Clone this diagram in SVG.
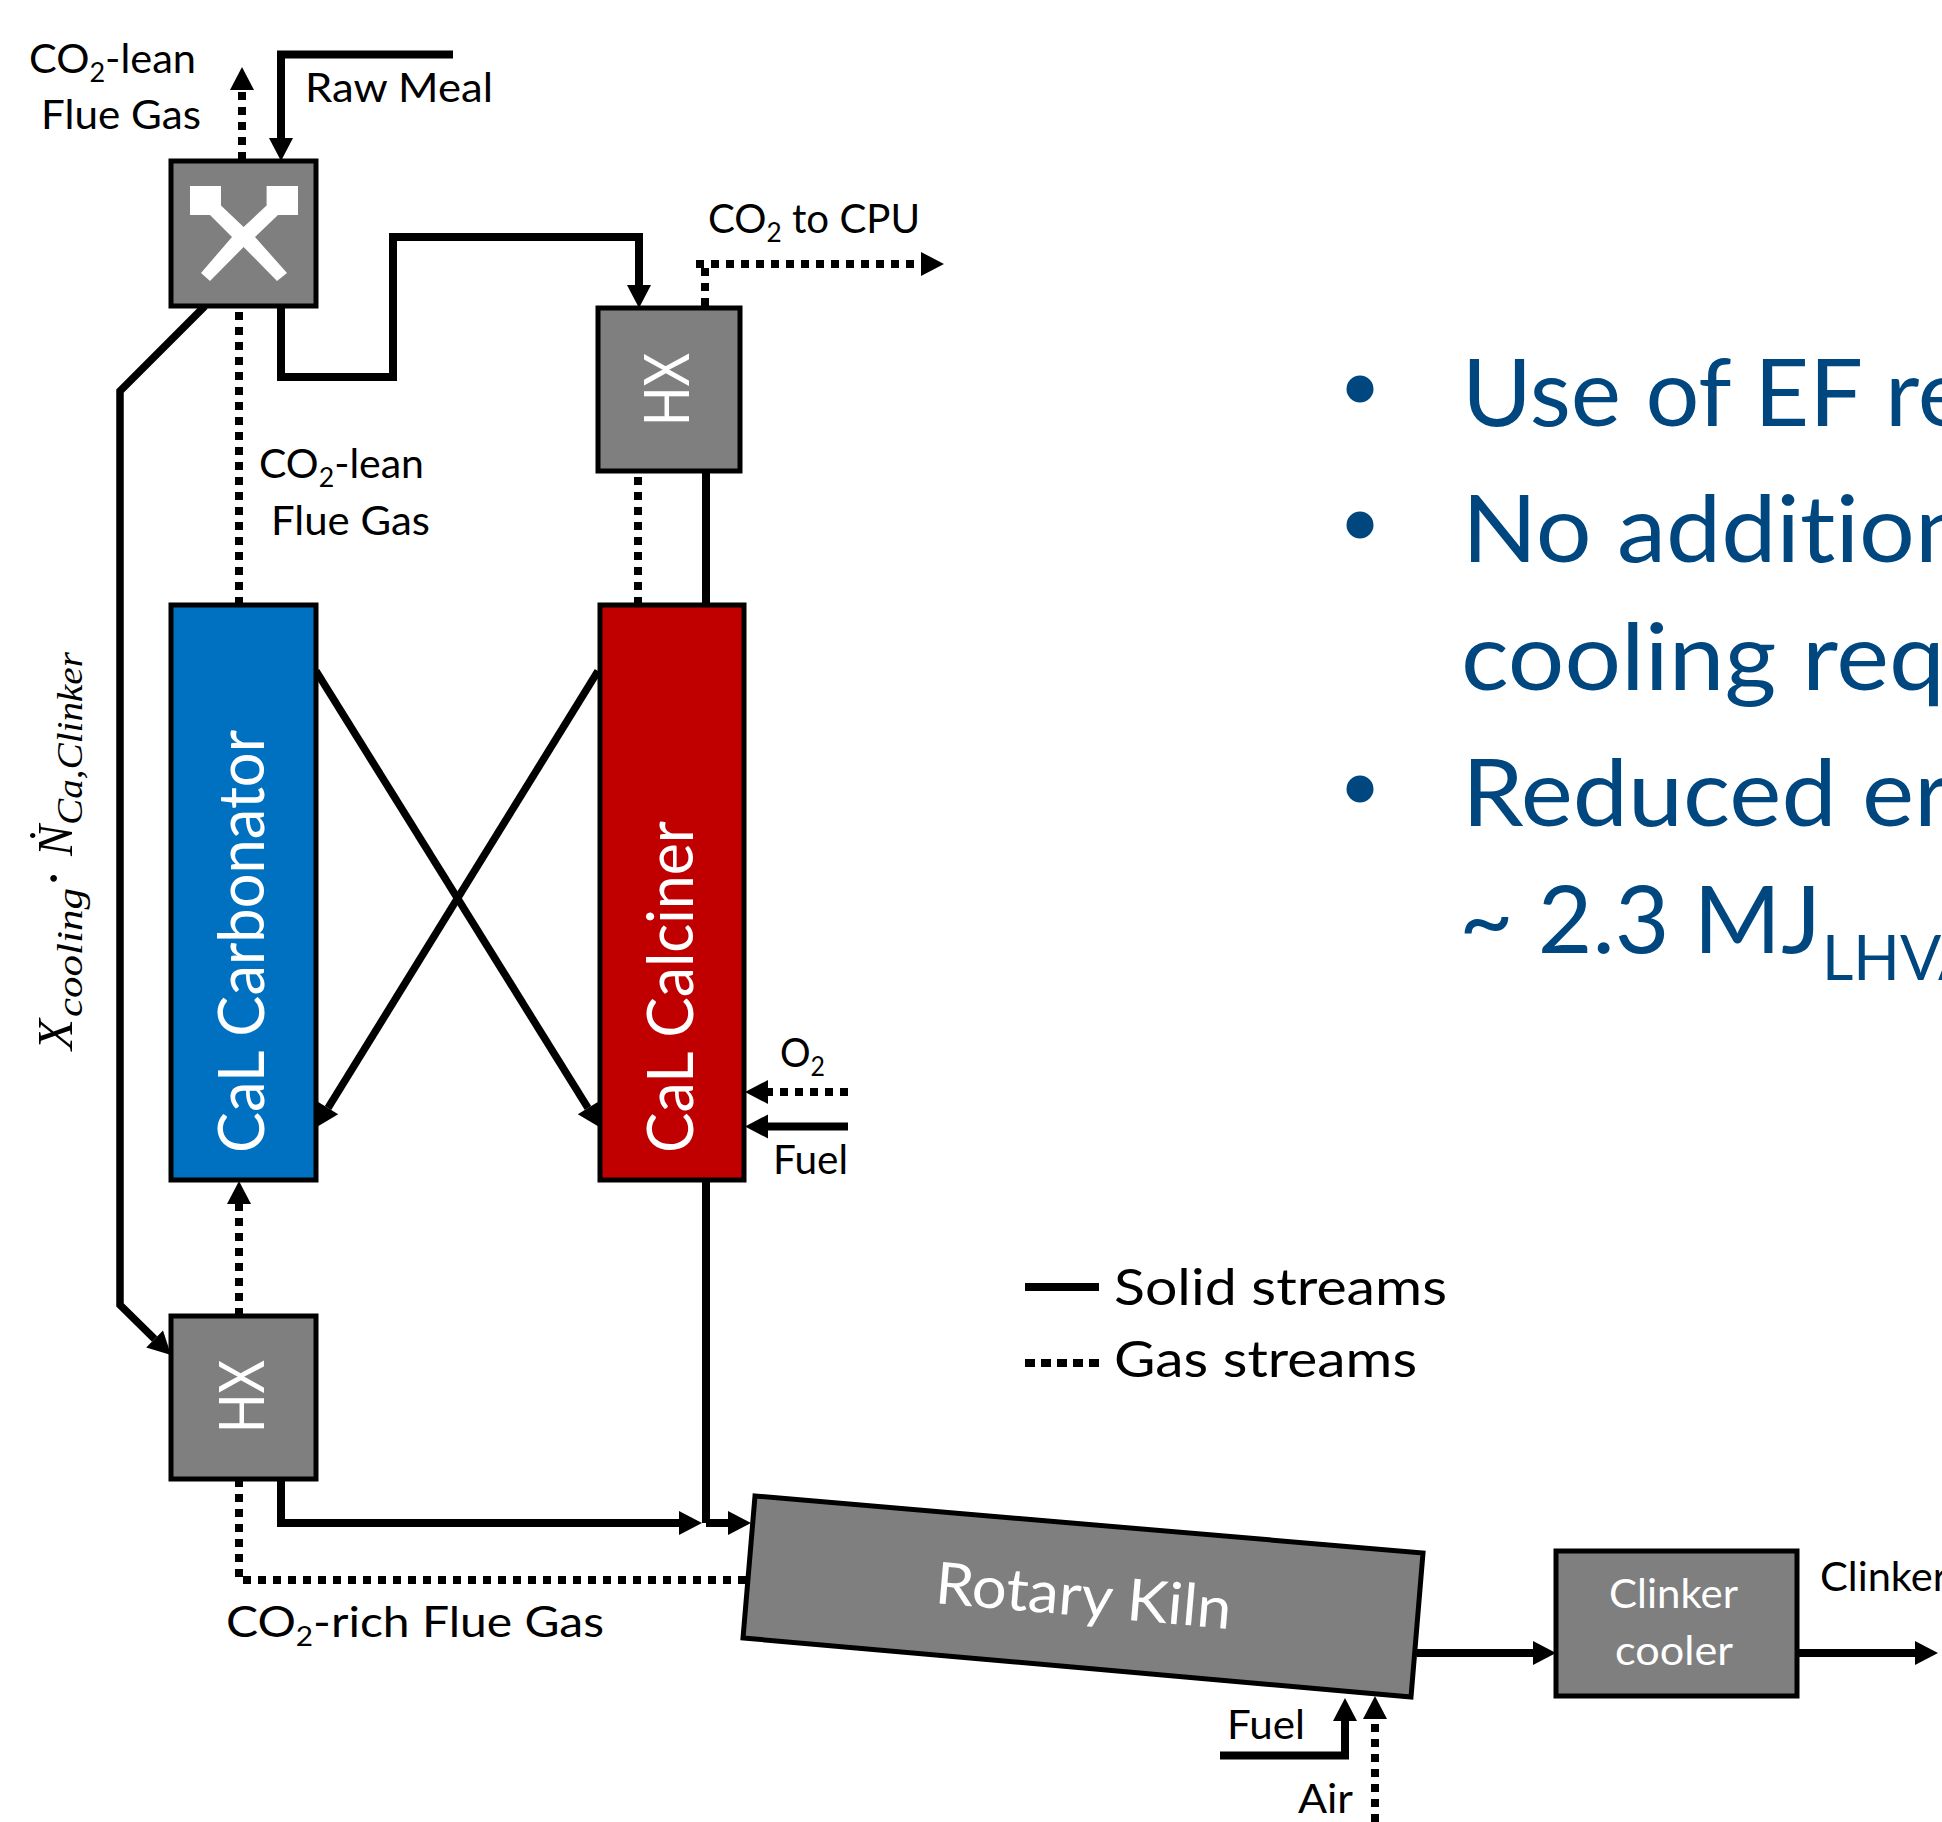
<svg xmlns="http://www.w3.org/2000/svg" width="1942" height="1822" viewBox="0 0 1942 1822">
<style>
text{font-family:Lato,"Liberation Sans",sans-serif;fill:#000;font-variant-ligatures:none}
.lbl{font-size:40px}
.sub{font-size:26px}
.leg{font-size:50px}
.w{fill:#fff}
.big{font-size:94px;fill:#00467f}
.math{font-family:"Liberation Serif","DejaVu Serif",serif;font-style:italic}
.box{stroke:#000;stroke-width:5;stroke-linejoin:miter}
.grey{fill:#7f7f7f}
.s{fill:none;stroke:#000;stroke-width:8;stroke-linejoin:miter}
.t{fill:none;stroke:#000;stroke-width:7.500;stroke-linejoin:miter}
.g{fill:none;stroke:#000;stroke-width:8;stroke-dasharray:8 7}
.ah{marker-end:url(#arrow)}
</style>
<defs>
<marker id="arrow" markerUnits="userSpaceOnUse" markerWidth="24" markerHeight="24" refX="0" refY="12" orient="auto" overflow="visible">
<path d="M0 0L23 12L0 24Z" fill="#000"/>
</marker>
</defs>
<rect width="1942" height="1822" fill="#fff"/>
<g id="connectors">
<path class="s ah" d="M453 54.500H281V138"/>
<path class="g ah" d="M242 160V90"/>
<path class="s ah" d="M281 306V377H393V237H639V285"/>
<path class="g ah" d="M705 306V264H696M696 264H921"/>
<path class="t ah" d="M205 306L120 391V1305L154.600 1339"/>
<path class="g" d="M239 605V306"/>
<path class="g ah" d="M239 1316V1204"/>
<path class="g" d="M638 605V471"/>
<path class="s" d="M706 471V605"/>
<path class="t ah" d="M316 671L588 1108"/>
<path class="t ah" d="M598 671L328 1108"/>
<path class="g ah" d="M848 1092H768"/>
<path class="s ah" d="M848 1126.500H768"/>
<path class="s" d="M706 1180V1523"/>
<path class="s ah" d="M281 1479V1523H679"/>
<path class="s ah" d="M706 1523H728"/>
<path class="g" d="M239 1479V1580H746"/>
<path class="s ah" d="M1417 1653H1533"/>
<path class="s ah" d="M1797 1653H1915"/>
<path class="s ah" d="M1220 1755.500H1345V1721"/>
<path class="g ah" d="M1375 1822V1719"/>
<path class="s" d="M1025 1287H1099"/>
<path class="g" style="stroke-dasharray:10 6" d="M1025 1363H1099"/>
</g>
<g id="mixer">
<rect class="box grey" x="171" y="161" width="145" height="145"/>
<path fill="#fff" d="M190 186H221V205.500L243.600 227L266.600 205.500V186H298V215H278L255 237L287 273L277 281L243.600 247L210 281L201 273L232 237L210 215H190Z"/>
</g>
<g id="hx-top">
<rect class="box grey" x="598" y="308" width="142" height="163"/>
<text class="w" font-size="61" transform="translate(689,426) rotate(-90)" textLength="73" lengthAdjust="spacingAndGlyphs">HX</text>
</g>
<g id="carbonator">
<rect class="box" fill="#0070c0" x="171" y="605" width="145" height="575"/>
<text class="w" font-size="64" transform="translate(264,1153) rotate(-90)" textLength="423" lengthAdjust="spacingAndGlyphs">CaL Carbonator</text>
</g>
<g id="calciner">
<rect class="box" fill="#c00000" x="600" y="605" width="144" height="575"/>
<text class="w" font-size="64" transform="translate(693,1153) rotate(-90)" textLength="332" lengthAdjust="spacingAndGlyphs">CaL Calciner</text>
</g>
<g id="hx-bottom">
<rect class="box grey" x="171" y="1316" width="145" height="163"/>
<text class="w" font-size="61" transform="translate(264,1433) rotate(-90)" textLength="73" lengthAdjust="spacingAndGlyphs">HX</text>
</g>
<g id="kiln">
<path class="box grey" d="M755 1496L1423 1553L1411 1697L743 1638Z"/>
<text class="w" font-size="58" transform="translate(934,1603) rotate(5)" textLength="297" lengthAdjust="spacingAndGlyphs">Rotary Kiln</text>
</g>
<g id="cooler">
<rect class="box grey" x="1556" y="1551" width="241" height="145"/>
<text class="lbl w" x="1609" y="1608" textLength="129" lengthAdjust="spacingAndGlyphs">Clinker</text>
<text class="lbl w" x="1615" y="1665" textLength="118" lengthAdjust="spacingAndGlyphs">cooler</text>
</g>
<g id="labels">
<text class="lbl" x="29" y="73" textLength="167" lengthAdjust="spacingAndGlyphs">CO<tspan class="sub" dy="9">2</tspan><tspan dy="-9">-lean</tspan></text>
<text class="lbl" x="41" y="129" textLength="160" lengthAdjust="spacingAndGlyphs">Flue Gas</text>
<text class="lbl" x="305" y="102" textLength="188" lengthAdjust="spacingAndGlyphs">Raw Meal</text>
<text class="lbl" x="708" y="233" textLength="212" lengthAdjust="spacingAndGlyphs">CO<tspan class="sub" dy="9">2</tspan><tspan dy="-9"> to CPU</tspan></text>
<text class="lbl" x="259" y="478" textLength="165" lengthAdjust="spacingAndGlyphs">CO<tspan class="sub" dy="9">2</tspan><tspan dy="-9">-lean</tspan></text>
<text class="lbl" x="271" y="535" textLength="159" lengthAdjust="spacingAndGlyphs">Flue Gas</text>
<text class="lbl" x="780" y="1067" textLength="45" lengthAdjust="spacingAndGlyphs">O<tspan class="sub" dy="9">2</tspan></text>
<text class="lbl" x="773" y="1174" textLength="75" lengthAdjust="spacingAndGlyphs">Fuel</text>
<text font-size="42" x="226" y="1637" textLength="378" lengthAdjust="spacingAndGlyphs">CO<tspan class="sub" dy="9">2</tspan><tspan dy="-9">-rich Flue Gas</tspan></text>
<text class="lbl" x="1227" y="1739" textLength="78" lengthAdjust="spacingAndGlyphs">Fuel</text>
<text class="lbl" x="1298" y="1813" textLength="55" lengthAdjust="spacingAndGlyphs">Air</text>
<text class="lbl" x="1820" y="1591" textLength="128" lengthAdjust="spacingAndGlyphs">Clinker</text>
<text class="leg" x="1114" y="1305" textLength="333" lengthAdjust="spacingAndGlyphs">Solid streams</text>
<text class="leg" x="1114" y="1377" textLength="303" lengthAdjust="spacingAndGlyphs">Gas streams</text>
<g class="math">
<text class="math" font-size="50" transform="translate(72,1050) rotate(-90)" textLength="31" lengthAdjust="spacingAndGlyphs">X</text>
<text class="math" font-size="36" transform="translate(82,1017) rotate(-90)" textLength="129" lengthAdjust="spacingAndGlyphs">cooling</text>
<text class="math" font-size="58" transform="translate(73,888) rotate(-90)" style="font-style:normal">·</text>
<text class="math" font-size="50" transform="translate(72,856) rotate(-90)" textLength="31" lengthAdjust="spacingAndGlyphs">Ṅ</text>
<text class="math" font-size="36" transform="translate(82,825) rotate(-90)" textLength="173" lengthAdjust="spacingAndGlyphs">Ca,Clinker</text>
</g>
</g>
<g id="bullets">
<circle cx="1360" cy="389" r="13.500" fill="#00467f"/>
<circle cx="1360" cy="525" r="13.500" fill="#00467f"/>
<circle cx="1360" cy="789" r="13.500" fill="#00467f"/>
<text class="big" x="1462" y="426" textLength="506" lengthAdjust="spacingAndGlyphs">Use of EF re</text>
<text class="big" x="1462" y="562" textLength="508" lengthAdjust="spacingAndGlyphs">No addition</text>
<text class="big" x="1461" y="690" textLength="484" lengthAdjust="spacingAndGlyphs">cooling req</text>
<text class="big" x="1462" y="826" textLength="488" lengthAdjust="spacingAndGlyphs">Reduced er</text>
<text class="big" x="1459" y="953" textLength="362" lengthAdjust="spacingAndGlyphs">~ 2.3 MJ</text>
<text class="big" style="font-size:61px" x="1822" y="980">LHVA</text>
</g>
</svg>
